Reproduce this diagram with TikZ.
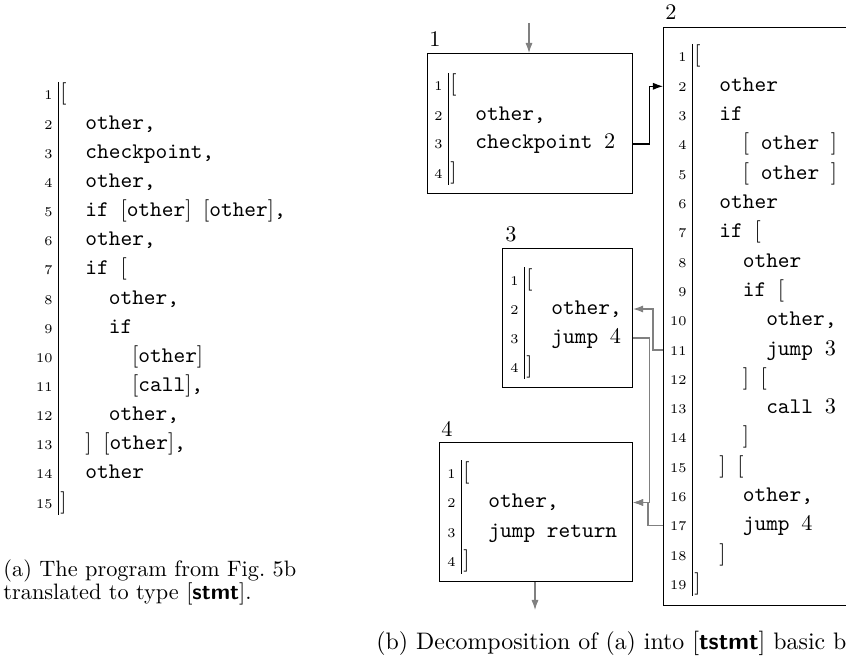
\documentclass[tikz,border=0pt]{standalone}
\usetikzlibrary{arrows.meta}
\tikzset{
  lnum/.style={anchor=base east, inner sep=0pt, font=\fontsize{6}{7}\selectfont},
  code/.style={anchor=base west, inner sep=0pt, font=\ttfamily},
  rulel/.style={draw=black, line width=0.4pt},
  blk/.style={draw=black, line width=0.5pt, inner sep=0pt, anchor=north west},
  blabel/.style={anchor=base west, inner sep=0pt},
  capt/.style={anchor=base west, inner sep=0pt},
  flow/.style={draw=gray, line width=0.5pt, -{Latex[length=4.5pt,width=3.2pt]}},
  jmp/.style={draw=black, line width=0.5pt, -{Latex[length=4.5pt,width=3.2pt]}}
}
\newcommand\codelist[6]{%
  \draw[rulel] (#2,#3-13) -- (#2,{#3+#4*(#5-1)+12});
  \foreach \n/\lv/\txt in {#6}{%
    \pgfmathsetmacro\yy{#3+#4*(\n-1)}%
    \pgfmathsetmacro\xx{#2+(\lv==0 ? 2 : 3.6+23.4*\lv)}%
    \coordinate (#1r\n) at (#2,\yy);
    \node[lnum] (#1n\n) at (#2-5,\yy+5) {\n};
    \node[code] (#1t\n) at (\xx,\yy+5) {\txt};
  }%
}
\begin{document}
\begin{tikzpicture}[x=0.4486pt, y=-0.4486pt]
\useasboundingbox (0,0) rectangle (846,671);
\clip (0,0) rectangle (846,671);

% (a) program listing
\codelist{A}{58}{95}{29.15}{15}{%
  1/0/{$[$}, 2/1/{other,}, 3/1/{checkpoint,}, 4/1/{other,},
  5/1/{if $[$other$]$ $[$other$]$,}, 6/1/{other,}, 7/1/{if $[$},
  8/2/{other,}, 9/2/{if}, 10/3/{$[$other$]$}, 11/3/{$[$call$]$,},
  12/2/{other,}, 13/1/{$]$ $[$other$]$,}, 14/1/{other}, 15/0/{$]$}}

\node[capt] (capa1) at (3,576) {(a) The program from Fig.~5b};
\node[capt] (capa2) at (3,599) {translated to type $[$\textsf{\textbf{stmt}}$]$.};

% blocks
\node[blk, minimum width={205*0.4486pt}, minimum height={140*0.4486pt}] (box1) at (427,53) {};
\node[blabel] (lab1) at (429,47) {1};
\codelist{B}{448}{86}{29}{4}{%
  1/0/{$[$}, 2/1/{other,}, 3/1/{checkpoint $2$}, 4/0/{$]$}}

\node[blk, minimum width={260*0.4486pt}, minimum height={578*0.4486pt}] (box2) at (663,27) {};
\node[blabel] (lab2) at (665,20) {2};
\codelist{C}{692}{57}{29.3}{19}{%
  1/0/{$[$}, 2/1/{other}, 3/1/{if}, 4/2/{$[$ other $]$}, 5/2/{$[$ other $]$},
  6/1/{other}, 7/1/{if $[$}, 8/2/{other}, 9/2/{if $[$}, 10/3/{other,},
  11/3/{jump $3$}, 12/2/{$]$ $[$}, 13/3/{call $3$}, 14/2/{$]$},
  15/1/{$]$ $[$}, 16/2/{other,}, 17/2/{jump $4$}, 18/1/{$]$}, 19/0/{$]$}}

\node[blk, minimum width={130*0.4486pt}, minimum height={139*0.4486pt}] (box3) at (502,248) {};
\node[blabel] (lab3) at (505,241) {3};
\codelist{D}{524}{280}{29}{4}{%
  1/0/{$[$}, 2/1/{other,}, 3/1/{jump $4$}, 4/0/{$]$}}

\node[blk, minimum width={193*0.4486pt}, minimum height={139*0.4486pt}] (box4) at (439,442) {};
\node[blabel] (lab4) at (441,436) {4};
\codelist{E}{461}{473}{29.5}{4}{%
  1/0/{$[$}, 2/1/{other,}, 3/1/{jump return}, 4/0/{$]$}}

\node[capt, font=\fontsize{10.7}{13}\selectfont] (capb) at (376,649) {(b) Decomposition of (a) into $[$\textsf{\textbf{tstmt}}$]$ basic blocks.};

% connectors
\coordinate (entry) at (529,23);
\coordinate (exit) at (535,610);
\draw[flow] (entry) -- (entry |- box1.north);
\draw[flow] (box4.south -| exit) -- (exit);
\draw[jmp] (box1.east |- Br3) -- ++(16,0) |- (box2.west |- Cr2);
\draw[flow] (box2.west |- Cr11) -- ++(-10,0) |- (box3.east |- Dr2);
\draw[flow] (box3.east |- Dr3) -- ++(16,0) |- (box4.east |- Er2);
\draw[flow] (box2.west |- Cr17) -- ++(-15,0) |- (box4.east |- Er2);
\end{tikzpicture}
\end{document}
